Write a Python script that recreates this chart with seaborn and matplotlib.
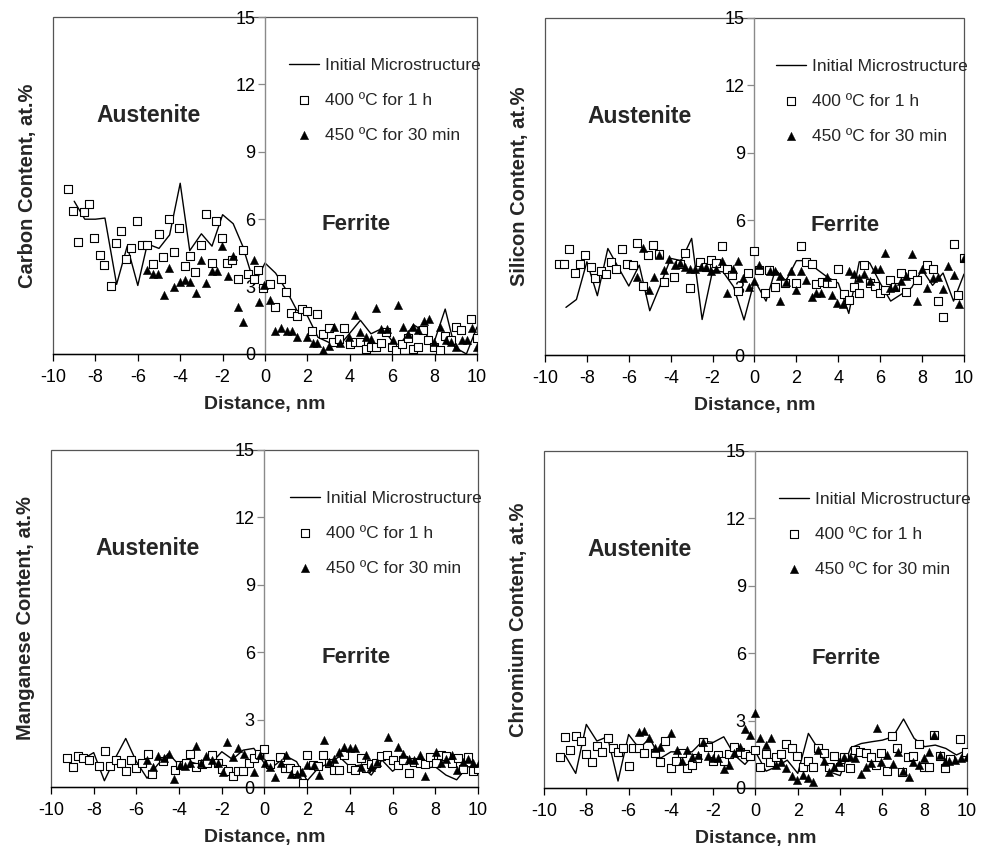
import matplotlib
matplotlib.use("Agg")
import matplotlib.pyplot as plt
import seaborn as sns
import pandas as pd
from matplotlib.patches import Rectangle

sns.set_theme(style="white")
plt.rcParams['font.family'] = ['Liberation Sans', 'DejaVu Sans']
plt.rcParams['axes.unicode_minus'] = False

# ---------------- data ----------------
series_labels = ["Initial Microstructure", "400 ºC for 1 h", "450 ºC for 30 min"]
x_ticks = [-10, -8, -6, -4, -2, 0, 2, 4, 6, 8, 10]
y_ticks = [0, 3, 6, 9, 12, 15]

# Carbon
C_line_x = [-9.0, -8.5, -8.0, -7.55, -7.0, -6.5, -6.0, -5.55, -5.0, -4.5, -4.0, -3.55, -3.0, -2.5, -2.0, -1.5, -1.05, -0.5,
            0.0, 0.5, 1.0, 1.5, 2.0, 2.5, 3.05, 3.6, 4.5, 5.0, 5.55, 6.25, 7.0, 7.45, 7.95, 8.5, 8.95, 9.5, 10.0]
C_line_y = [6.8, 6.0, 6.0, 6.05, 3.1, 4.8, 3.05, 4.9, 4.7, 5.3, 7.6, 4.6, 5.35, 4.8, 6.2, 5.8, 4.8, 3.1,
            4.05, 3.6, 2.85, 1.95, 1.7, 0.74, 0.5, 0.47, 1.5, 0.9, 1.15, 0.25, 1.3, 1.05, 0.45, 2.0, 0.3, 0.0, 1.2]
C_sq_x = [-9.28, -9.04, -8.81, -8.54, -8.30, -8.05, -7.78, -7.58, -7.28, -7.01, -6.81, -6.56, -6.32, -6.05, -5.79, -5.55,
          -5.30, -5.02, -4.80, -4.53, -4.29, -4.04, -3.77, -3.54, -3.29, -3.02, -2.80, -2.52, -2.30, -2.03, -1.78, -1.56,
          -1.29, -1.02, -0.80, -0.50, -0.31, -0.08,
          0.24, 0.47, 0.74, 0.97, 1.21, 1.49, 1.73, 1.96, 2.23, 2.47, 2.75, 3.02, 3.22, 3.49, 3.73, 4.01, 4.25, 4.48,
          4.76, 5.0, 5.23, 5.47, 5.71, 5.97, 6.2, 6.44, 6.76, 7.0, 7.23, 7.47, 7.7, 7.97, 8.25, 8.49, 8.76, 9.01, 9.25,
          9.72, 9.98]
C_sq_y = [7.36, 6.37, 4.99, 6.33, 6.67, 5.18, 4.4, 3.96, 3.02, 4.95, 5.47, 4.21, 4.7, 5.91, 4.87, 4.87,
          3.99, 5.33, 4.3, 6.02, 4.55, 5.63, 3.92, 4.37, 3.66, 4.87, 6.22, 4.03, 5.93, 5.17, 4.06, 4.17,
          3.33, 4.62, 3.54, 3.33, 3.73, 2.95,
          3.11, 2.1, 3.36, 2.77, 1.81, 1.7, 2.0, 1.92, 1.02, 1.76, 0.89, 1.14, 0.55, 0.65, 1.14, 0.43, 0.55, 0.52,
          0.22, 0.3, 0.33, 0.47, 0.99, 0.33, 0.18, 0.43, 0.7, 0.22, 0.33, 1.05, 0.62, 0.3, 0.18, 0.8, 0.62, 1.2, 1.08,
          1.54, 0.73]
C_tri_x = [-5.55, -5.30, -5.03, -4.76, -4.51, -4.27, -4.01, -3.76, -3.54, -3.26, -3.00, -2.78, -2.52, -2.28, -2.03,
           -1.76, -1.53, -1.26, -1.02, -0.52, -0.27, -0.03,
           0.24, 0.47, 0.74, 1.02, 1.26, 1.49, 1.96, 2.25, 2.47, 2.75, 3.02, 3.25, 3.54, 3.98, 4.25, 4.48, 4.76, 5.0,
           5.23, 5.47, 5.74, 6.02, 6.26, 6.49, 6.73, 7.0, 7.23, 7.5, 7.74, 7.99, 8.25, 8.54, 8.77, 9.01, 9.28, 9.51,
           9.75, 9.99]
C_tri_y = [3.73, 3.54, 3.54, 2.62, 3.84, 2.99, 3.21, 3.29, 3.21, 2.72, 4.18, 3.14, 3.7, 3.7, 4.81,
           3.48, 4.36, 2.1, 1.44, 4.18, 2.3, 3.07,
           2.4, 1.02, 1.14, 1.02, 1.02, 0.77, 0.74, 0.5, 0.5, 0.18, 0.36, 1.19, 0.5, 0.74, 1.73, 0.99, 0.74, 0.65,
           2.03, 1.12, 1.12, 0.62, 2.2, 1.19, 0.88, 1.19, 1.07, 1.46, 1.55, 0.55, 1.19, 0.62, 0.52, 0.3, 0.62, 0.62,
           1.14, 0.3]

# Silicon
Si_line_x = [-9.0, -8.5, -8.0, -7.5, -7.0, -6.5, -6.0, -5.5, -5.0, -4.5, -4.0, -3.5, -3.0, -2.5, -2.0, -1.5, -1.0, -0.5,
             0.0, 0.55, 1.0, 1.5, 2.0, 2.5, 3.0, 3.5, 4.0, 4.5, 5.0, 5.5, 6.0, 6.5, 7.0, 7.5, 8.0, 8.5, 9.0, 9.5, 10.0]
Si_line_y = [2.12, 2.47, 4.15, 2.64, 4.74, 3.9, 3.07, 4.0, 1.97, 3.1, 4.3, 4.2, 5.19, 1.58, 3.75, 3.7, 3.04, 1.56,
             3.33, 2.4, 3.8, 3.3, 4.2, 4.2, 3.8, 3.45, 3.2, 1.85, 4.15, 4.1, 3.2, 2.4, 2.7, 3.0, 3.8, 3.1, 3.65, 2.4, 3.6]
Si_sq_x = [-9.33, -9.09, -8.85, -8.58, -8.34, -8.08, -7.81, -7.6, -7.34, -7.09, -6.86, -6.59, -6.33, -6.09, -5.82,
           -5.61, -5.34, -5.07, -4.83, -4.58, -4.3, -3.83, -3.57, -3.32, -3.08, -2.6, -2.31, -2.07, -1.83, -1.55, -1.31,
           -1.07, -0.77, -0.29, -0.03,
           0.21, 0.48, 0.69, 0.96, 1.44, 1.96, 2.2, 2.47, 2.74, 2.95, 3.24, 3.48, 3.72, 3.99, 4.26, 4.5, 4.74, 4.98,
           5.23, 5.5, 5.74, 5.98, 6.22, 6.46, 6.73, 6.97, 7.22, 7.5, 7.74, 8.25, 8.5, 8.74, 8.98, 9.52, 9.73, 10.0]
Si_sq_y = [4.03, 4.03, 4.71, 3.63, 4.07, 4.44, 3.92, 3.41, 3.75, 3.59, 4.15, 3.82, 4.74, 4.03, 4.0,
           4.99, 3.08, 4.44, 4.89, 4.49, 3.23, 3.48, 4.07, 4.55, 2.99, 4.12, 3.92, 4.22, 4.1, 4.86, 3.82,
           3.55, 2.86, 3.67, 4.62,
           3.78, 2.77, 3.78, 3.04, 3.21, 3.21, 4.84, 4.12, 4.04, 3.16, 3.26, 3.19, 3.19, 3.81, 2.71, 2.44, 3.04, 2.74,
           4.0, 3.21, 3.07, 2.77, 2.89, 3.36, 3.04, 3.66, 2.81, 3.59, 3.36, 4.0, 3.84, 2.41, 1.71, 4.92, 2.67, 4.3]
Si_tri_x = [-5.59, -5.34, -5.05, -4.81, -4.55, -4.3, -4.07, -3.81, -3.57, -3.32, -3.08, -2.84, -2.55, -2.31, -2.07,
            -1.83, -1.55, -1.31, -1.04, -0.77, -0.53, -0.27, -0.03,
            0.21, 0.72, 0.96, 1.23, 1.24, 1.48, 1.72, 1.99, 2.23, 2.47, 2.74, 2.95, 3.19, 3.46, 3.72, 3.96, 4.23, 4.5,
            4.74, 4.98, 5.23, 5.5, 5.74, 5.98, 6.22, 6.49, 6.73, 7.0, 7.25, 7.5, 7.74, 8.0, 8.25, 8.5, 8.74, 8.98, 9.25,
            9.52, 9.76, 10.0]
Si_tri_y = [3.48, 4.78, 2.89, 3.48, 4.45, 3.78, 4.27, 4.0, 4.1, 3.9, 3.81, 3.81, 3.92, 3.9, 3.75,
            3.85, 4.19, 2.74, 3.85, 4.18, 3.41, 3.01, 3.3,
            4.0, 3.73, 3.73, 3.52, 2.41, 3.26, 3.73, 2.89, 3.73, 3.33, 2.6, 2.74, 2.74, 3.45, 2.67, 2.33, 2.26, 3.73,
            3.6, 3.41, 3.59, 3.3, 3.85, 3.81, 4.52, 2.96, 3.04, 3.3, 3.5, 4.49, 2.41, 3.81, 3.0, 3.41, 3.48, 2.92, 3.95,
            3.55, 2.28, 4.3]

# Manganese
Mn_line_x = [-8.5, -8.0, -7.5, -7.0, -6.5, -6.0, -5.5, -5.0, -4.5, -4.0, -3.5, -3.0, -2.5, -2.0, -1.5, -1.0, -0.5,
             0.0, 0.5, 1.0, 1.5, 2.0, 2.5, 3.0, 3.5, 4.0, 4.5, 5.0, 5.5, 6.0, 6.5, 7.0, 7.5, 8.0, 8.5, 9.0, 9.5, 10.0]
Mn_line_y = [1.25, 1.53, 0.28, 1.27, 2.16, 1.13, 0.39, 1.0, 1.49, 0.98, 1.13, 0.98, 1.05, 1.57, 1.23, 1.64, 1.72,
             1.05, 0.98, 1.38, 1.13, 0.28, 0.83, 1.05, 1.35, 0.9, 0.98, 0.53, 1.2, 0.7, 1.1, 0.98, 0.83, 0.9, 0.53,
             0.32, 0.9, 0.9]
Mn_sq_x = [-9.24, -8.97, -8.74, -8.49, -8.22, -7.76, -7.48, -7.24, -6.97, -6.74, -6.48, -6.23, -6.0, -5.73, -5.46,
           -5.26, -4.75, -4.19, -3.97, -3.7, -3.47, -3.23, -2.95, -2.68, -2.45, -2.2, -1.97, -1.73, -1.48, -1.25, -1.0,
           -0.73, -0.5, -0.26, 0.0,
           0.28, 0.74, 0.97, 1.2, 1.48, 1.8, 1.99, 2.28, 2.51, 2.75, 3.0, 3.25, 3.48, 3.74, 4.03, 4.26, 4.52, 4.76,
           5.0, 5.22, 5.48, 5.74, 6.0, 6.24, 6.49, 6.76, 7.02, 7.27, 7.54, 7.77, 8.04, 8.27, 8.52, 8.78, 9.05, 9.3,
           9.53, 9.77, 10.0]
Mn_sq_y = [1.3, 0.9, 1.38, 1.3, 1.2, 0.95, 1.62, 0.93, 1.2, 1.05, 0.71, 1.2, 0.83, 1.05, 1.45,
           0.58, 1.15, 0.76, 0.98, 1.08, 1.49, 0.9, 1.02, 1.05, 1.42, 1.08, 0.79, 0.73, 0.5, 0.73, 0.73,
           1.08, 1.27, 1.49, 1.67,
           1.02, 1.32, 0.83, 0.83, 0.75, 0.16, 1.42, 0.98, 0.95, 1.42, 1.05, 0.76, 0.76, 1.42, 0.83, 0.76, 1.27, 0.83,
           1.01, 1.08, 1.38, 1.42, 1.2, 0.98, 1.2, 0.62, 1.12, 1.08, 1.02, 1.32, 1.08, 1.42, 1.38, 1.05, 1.27, 0.8,
           1.35, 0.73, 0.81]
Mn_tri_x = [-5.5, -5.23, -5.0, -4.71, -4.48, -4.22, -3.97, -3.72, -3.47, -3.2, -2.97, -2.72, -2.45, -2.2, -1.93,
            -1.74, -1.46, -1.23, -0.97, -0.47, -0.22, 0.03, 0.28, 0.5, 0.78, 1.03, 1.25, 1.53, 1.76, 2.01, 2.3, 2.54,
            2.78, 3.0, 3.25, 3.51, 3.74, 4.02, 4.26, 4.52, 4.76, 5.0, 5.27, 5.77, 6.24, 6.49, 6.76, 7.02, 7.27, 7.54,
            8.04, 8.27, 8.52, 8.78, 9.0, 9.3, 9.53, 9.77, 10.03]
Mn_tri_y = [1.2, 0.9, 1.38, 1.27, 1.49, 0.34, 1.0, 0.93, 1.05, 1.82, 1.08, 1.38, 1.2, 1.05, 0.68,
            2.01, 1.32, 1.72, 1.49, 0.68, 1.42, 1.05, 0.9, 0.46, 1.08, 1.42, 0.58, 0.6, 0.68, 0.98, 0.98, 0.53,
            2.09, 1.12, 1.23, 1.57, 1.76, 1.72, 1.72, 0.9, 1.42, 0.9, 1.12, 2.24, 1.79, 1.49, 1.23, 1.2, 1.42, 0.48,
            1.57, 1.08, 1.23, 1.42, 0.76, 1.12, 1.23, 1.08, 1.05]

# Chromium
Cr_line_x = [-9.0, -8.5, -8.0, -7.5, -7.0, -6.5, -6.0, -5.5, -5.0, -4.5, -4.0, -3.5, -3.0, -2.5, -2.0, -1.5, -1.0, -0.5,
             0.0, 0.5, 1.0, 1.5, 2.0, 2.5, 3.0, 3.5, 4.0, 4.5, 5.0, 5.5, 6.0, 6.5, 7.0, 7.5, 8.0, 8.5, 9.0, 9.5, 10.0]
Cr_line_y = [1.45, 0.65, 2.83, 2.09, 2.28, 0.31, 2.38, 1.76, 2.21, 1.32, 1.61, 1.61, 1.61, 2.09, 2.03, 2.28, 1.47, 1.05,
             1.61, 0.75, 0.95, 1.24, 0.65, 2.43, 1.69, 0.72, 0.55, 1.79, 1.98, 2.06, 2.13, 2.28, 3.07, 2.21, 1.84, 1.91,
             1.76, 1.47, 1.69]
Cr_sq_x = [-9.23, -8.99, -8.75, -8.47, -8.24, -8.0, -7.73, -7.49, -7.26, -6.97, -6.74, -6.5, -6.27, -6.0, -5.77, -5.5,
           -5.25, -4.74, -4.52, -4.27, -4.0, -3.75, -3.48, -3.24, -3.0, -2.77, -2.48, -2.25, -2.01, -1.77, -1.5, -1.27,
           -1.0, -0.75, -0.5, -0.27, 0.0,
           0.23, 0.5, 0.7, 0.98, 1.2, 1.46, 1.72, 1.96, 2.23, 2.47, 2.72, 2.96, 3.22, 3.46, 3.7, 3.98, 4.2, 4.45, 4.72,
           4.95, 5.22, 5.46, 5.71, 5.94, 6.2, 6.44, 6.68, 6.95, 7.2, 7.44, 7.71, 7.95, 8.19, 8.45, 8.71, 8.94, 9.2,
           9.68, 9.96]
Cr_sq_y = [1.39, 2.28, 1.69, 2.33, 2.09, 1.5, 1.17, 1.87, 1.61, 2.24, 1.79, 1.61, 1.76, 1.0, 1.76, 1.76,
           1.54, 1.54, 1.14, 2.09, 0.87, 1.2, 1.54, 0.9, 1.02, 1.35, 2.06, 1.84, 1.2, 1.46, 1.2, 1.5,
           1.84, 1.61, 1.5, 1.42, 1.69,
           0.95, 1.5, 1.17, 1.39, 1.5, 1.94, 1.79, 1.43, 0.95, 1.2, 0.95, 1.76, 1.54, 0.95, 1.43, 0.95, 1.39, 0.9, 1.69,
           1.61, 1.54, 1.39, 1.04, 1.58, 0.75, 2.33, 1.8, 0.72, 1.39, 1.43, 1.96, 0.95, 0.95, 2.36, 1.43, 0.9, 1.3,
           2.18, 1.61]
Cr_tri_x = [-5.5, -5.25, -5.02, -4.74, -4.52, -3.98, -3.72, -3.48, -3.24, -3.0, -2.73, -2.5, -2.25, -2.01, -1.77,
            -1.5, -1.27, -1.0, -0.75, -0.5, -0.27, 0.0, 0.23, 0.5, 0.74, 0.98, 1.2, 1.46, 1.72, 1.98, 2.23, 2.48,
            2.74, 2.96, 3.22, 3.46, 3.7, 3.97, 4.2, 4.45, 4.72, 5.0, 5.24, 5.47, 5.74, 5.94, 6.2, 6.49, 6.72, 6.97,
            7.24, 7.44, 7.71, 7.95, 8.2, 8.46, 8.7, 8.94, 9.17, 9.44, 9.7, 10.0]
Cr_tri_y = [2.5, 2.53, 2.21, 1.79, 1.84, 2.43, 1.69, 1.2, 1.69, 1.39, 1.46, 2.06, 1.42, 1.35, 1.32,
            0.84, 1.02, 1.58, 1.84, 2.62, 2.38, 3.32, 2.24, 1.9, 2.24, 1.02, 1.17, 0.87, 0.53, 0.35, 0.57, 0.46,
            0.28, 1.69, 1.2, 0.72, 0.95, 1.14, 1.39, 1.39, 1.32, 0.62, 0.95, 1.1, 2.68, 1.17, 1.47, 1.05, 1.61, 0.75,
            0.49, 1.17, 1.02, 1.32, 1.61, 2.36, 1.47, 1.17, 1.2, 1.24, 1.32, 1.39]

panels = [
    ("Carbon Content, at.%", C_line_x, C_line_y, C_sq_x, C_sq_y, C_tri_x, C_tri_y),
    ("Silicon Content, at.%", Si_line_x, Si_line_y, Si_sq_x, Si_sq_y, Si_tri_x, Si_tri_y),
    ("Manganese Content, at.%", Mn_line_x, Mn_line_y, Mn_sq_x, Mn_sq_y, Mn_tri_x, Mn_tri_y),
    ("Chromium Content, at.%", Cr_line_x, Cr_line_y, Cr_sq_x, Cr_sq_y, Cr_tri_x, Cr_tri_y),
]

W, H = 987, 850
# axes boxes in pixels: (left, top, right, bottom)
boxes = [(53, 17, 477, 354), (545, 18, 964, 355), (51, 450, 478, 787), (544, 451, 967, 788)]

fig = plt.figure(figsize=(W / 100, H / 100), dpi=100)

for (ylabel, lx, ly, sx, sy, tx, ty), (l, t, r, b) in zip(panels, boxes):
    ax = fig.add_axes([l / W, 1 - b / H, (r - l) / W, (b - t) / H])
    line_df = pd.DataFrame({"x": lx, "y": ly})
    sq_df = pd.DataFrame({"x": sx, "y": sy})
    tri_df = pd.DataFrame({"x": tx, "y": ty})
    sns.lineplot(data=line_df, x="x", y="y", ax=ax, color="black", linewidth=1.0,
                 sort=False, estimator=None, label=series_labels[0])
    sns.scatterplot(data=sq_df, x="x", y="y", ax=ax, marker="s", s=26, facecolor="white",
                    edgecolor="black", linewidth=0.8, label=series_labels[1], zorder=3)
    sns.scatterplot(data=tri_df, x="x", y="y", ax=ax, marker="^", s=36, color="black",
                    edgecolor="black", linewidth=0.3, label=series_labels[2], zorder=4)

    ax.set_xlim(-10, 10)
    ax.set_ylim(0, 15)
    ax.set_xticks(x_ticks)
    ax.set_yticks(y_ticks)
    ax.spines['left'].set_position(('data', 0))
    ax.spines['left'].set_color('#8a8a8a')
    ax.spines['left'].set_linewidth(1.0)
    ax.spines['bottom'].set_color('black')
    ax.spines['bottom'].set_linewidth(1.0)
    ax.spines['top'].set_visible(False)
    ax.spines['right'].set_visible(False)
    ax.add_patch(Rectangle((0, 0), 1, 1, transform=ax.transAxes, fill=False,
                           edgecolor='#555555', linewidth=0.9, zorder=0, clip_on=False))
    ax.tick_params(axis='both', direction='out', length=5, width=0.9, labelsize=13,
                   colors='black', left=True, bottom=True)
    ax.tick_params(axis='x', pad=6)
    ax.tick_params(axis='y', color='#8a8a8a', labelcolor='black', pad=2)
    ax.set_xlabel("Distance, nm", fontsize=14, fontweight='bold', labelpad=7)
    ax.set_ylabel(ylabel, fontsize=14.5, fontweight='bold')
    ax.yaxis.set_label_coords(-0.038, 0.5)

    ax.text(-5.5, 10.6, "Austenite", fontsize=16.5, fontweight='bold', ha='center', va='center')
    ax.text(4.3, 5.75, "Ferrite", fontsize=16, fontweight='bold', ha='center', va='center')

    ax.legend(loc='upper right', bbox_to_anchor=(1.008, 0.88), frameon=False, fontsize=12.5,
              labelspacing=1.15, handlelength=1.7, handletextpad=0.35, borderaxespad=0.0, borderpad=0.0)

fig.savefig("out.png", dpi=100)
